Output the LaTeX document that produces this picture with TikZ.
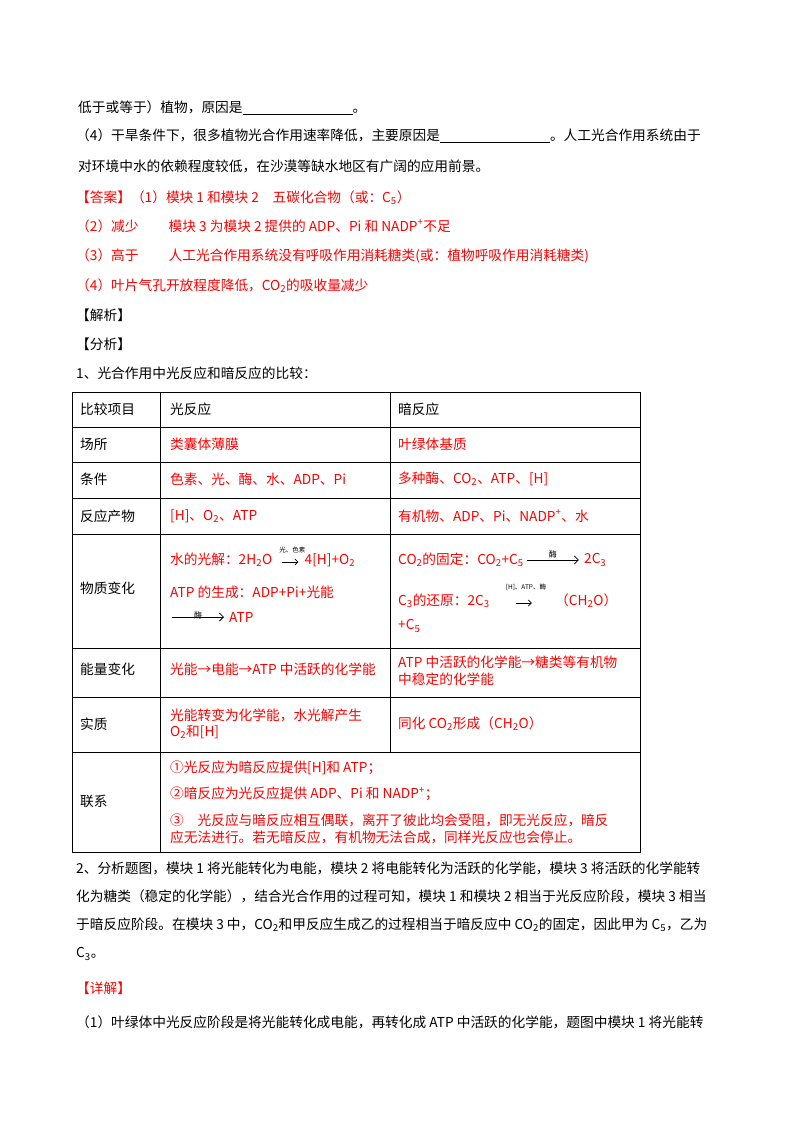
\documentclass[tikz,border=0pt]{standalone}
\usepackage{fontspec}
\setmainfont{Noto Sans CJK SC}
\usetikzlibrary{arrows.meta}
\newcommand{\sub}[1]{\textsubscript{#1}}
\newcommand{\sups}[1]{\textsuperscript{#1}}
\newcommand{\blank}[1]{\rule[-2pt]{#1}{0.5pt}}
\tikzset{
	txt/.style = {anchor = west, inner sep = 0pt, font = \fontsize{13.7}{16}\selectfont},
	ans/.style = {txt, text = red},
	small/.style = {inner sep = 0pt, font = \fontsize{6.5}{7}\selectfont},
	grid/.style = {line width = 0.8pt}
}
\begin{document}
\begin{tikzpicture}[x = 1pt, y = -1pt]
	\useasboundingbox (0,0) rectangle (800,1132);
	
	% question text
	\node [txt] (q1) at (78,108) {低于或等于）植物，原因是\blank{110pt}。};
	\node [txt] (q2) at (76,136) {（4）干旱条件下，很多植物光合作用速率降低，主要原因是\blank{110pt}。人工光合作用系统由于};
	\node [txt] (q3) at (78,166) {对环境中水的依赖程度较低，在沙漠等缺水地区有广阔的应用前景。};
	
	% answers
	\node [ans] (a1) at (76,198) {【答案】（1）模块 1 和模块 2\quad 五碳化合物（或：C\sub{5}）};
	\node [ans] (a2) at (76,226) {（2）减少\hspace{2.2em}模块 3 为模块 2 提供的 ADP、Pi 和 NADP\sups{+}不足};
	\node [ans] (a3) at (76,256) {（3）高于\hspace{2.2em}人工光合作用系统没有呼吸作用消耗糖类(或：植物呼吸作用消耗糖类)};
	\node [ans] (a4) at (76,286) {（4）叶片气孔开放程度降低，CO\sub{2}的吸收量减少};
	\node [txt] (jx) at (76,315) {【解析】};
	\node [txt] (fx) at (76,344) {【分析】};
	\node [txt] (t1) at (76,373) {1、光合作用中光反应和暗反应的比较：};
	
	% table
	\draw [grid] (72,392) rectangle (640,852);
	\foreach \y in {427,462,498,534,648,697,752}
		\draw [grid] (72,\y) -- (640,\y);
	\draw [grid] (160,392) -- (160,852);
	\draw [grid] (390,392) -- (390,752);
	
	\node [txt] (h1) at (80,409) {比较项目};
	\node [txt] (h2) at (170,409) {光反应};
	\node [txt] (h3) at (398,409) {暗反应};
	\node [txt] (r1) at (80,444) {场所};
	\node [ans] (r1b) at (170,444) {类囊体薄膜};
	\node [ans] (r1c) at (398,444) {叶绿体基质};
	\node [txt] (r2) at (80,479) {条件};
	\node [ans] (r2b) at (170,479) {色素、光、酶、水、ADP、Pi};
	\node [ans] (r2c) at (398,479) {多种酶、CO\sub{2}、ATP、[H]};
	\node [txt] (r3) at (80,516) {反应产物};
	\node [ans] (r3b) at (170,516) {[H]、O\sub{2}、ATP};
	\node [ans] (r3c) at (398,516) {有机物、ADP、Pi、NADP\sups{+}、水};
	
	\node [txt] (r4) at (80,588) {物质变化};
	\node [ans] (w1) at (170,560) {水的光解：2H\sub{2}O};
	\draw [-{Straight Barb[length=3pt]}, thick] (w1.east) ++(10,2) -- ++(16,0) coordinate (w1e);
	\node [small, above] (w1l) at ([xshift=-6pt, yshift=9pt]w1e) {光、色素};
	\node [ans] (w2) at ([xshift=6pt, yshift=2pt]w1e) {4[H]+O\sub{2}};
	\node [ans] (p1) at (170,592) {ATP 的生成：ADP+Pi+光能};
	\draw [-{Straight Barb[length=4pt]}, thick] (172,617) -- (224,617) coordinate (p1e);
	\node [small, above] (p1l) at (198,619) {\fontsize{8}{8}\selectfont 酶};
	\node [ans] (p2) at (229,617) {ATP};
	\node [ans] (g1) at (398,560) {CO\sub{2}的固定：CO\sub{2}+C\sub{5}};
	\draw [-{Straight Barb[length=4pt]}, thick] (g1.east) ++(3,0) -- ++(52,0) coordinate (g1e);
	\node [small, above] (g1l) at ([xshift=-26pt, yshift=2pt]g1e) {\fontsize{8}{8}\selectfont 酶};
	\node [ans] (g2) at ([xshift=5pt]g1e) {2C\sub{3}};
	\node [ans] (c1) at (398,601) {C\sub{3}的还原：2C\sub{3}};
	\draw [-{Straight Barb[length=3pt]}, thick] (c1.east) ++(26,2) -- ++(16,0) coordinate (c1e);
	\node [small, above] (c1l) at ([xshift=-6pt, yshift=12pt]c1e) {[H]、ATP、酶};
	\node [ans] (c2) at (555,601) {（CH\sub{2}O）};
	\node [ans] (c3) at (398,626) {+C\sub{5}};
	
	\node [txt] (r5) at (80,669) {能量变化};
	\node [ans] (r5b) at (170,669) {光能→电能→ATP 中活跃的化学能};
	\node [ans] (r5c) at (398,662) {ATP 中活跃的化学能→糖类等有机物};
	\node [ans] (r5d) at (398,679) {中稳定的化学能};
	\node [txt] (r6) at (80,724) {实质};
	\node [ans] (r6b) at (170,715) {光能转变为化学能，水光解产生};
	\node [ans] (r6c) at (170,732) {O\sub{2}和[H]};
	\node [ans] (r6d) at (398,724) {同化 CO\sub{2}形成（CH\sub{2}O）};
	\node [txt] (r7) at (80,801) {联系};
	\node [ans] (l1) at (170,768) {①光反应为暗反应提供[H]和 ATP；};
	\node [ans] (l2) at (170,794) {②暗反应为光反应提供 ADP、Pi 和 NADP\sups{+}；};
	\node [ans] (l3) at (170,820) {③\quad 光反应与暗反应相互偶联，离开了彼此均会受阻，即无光反应，暗反};
	\node [ans] (l4) at (170,837) {应无法进行。若无暗反应，有机物无法合成，同样光反应也会停止。};
	
	% analysis text
	\node [txt] (b1) at (76,868) {2、分析题图，模块 1 将光能转化为电能，模块 2 将电能转化为活跃的化学能，模块 3 将活跃的化学能转};
	\node [txt] (b2) at (76,896) {化为糖类（稳定的化学能），结合光合作用的过程可知，模块 1 和模块 2 相当于光反应阶段，模块 3 相当};
	\node [txt] (b3) at (76,925) {于暗反应阶段。在模块 3 中，CO\sub{2}和甲反应生成乙的过程相当于暗反应中 CO\sub{2}的固定，因此甲为 C\sub{5}，乙为};
	\node [txt] (b4) at (76,954) {C\sub{3}。};
	\node [ans] (xj) at (76,988) {【详解】};
	\node [txt] (d1) at (76,1022) {（1）叶绿体中光反应阶段是将光能转化成电能，再转化成 ATP 中活跃的化学能，题图中模块 1 将光能转};
\end{tikzpicture}
\end{document}
